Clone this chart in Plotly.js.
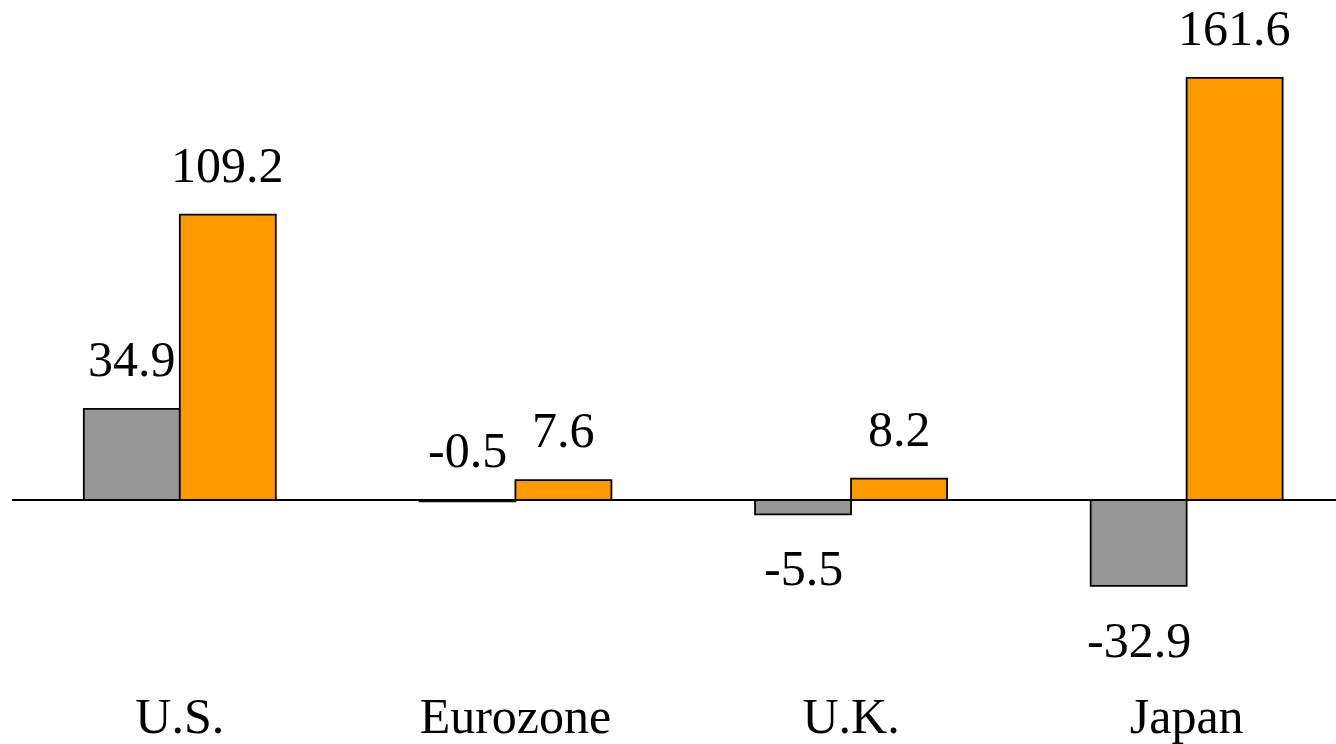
<!DOCTYPE html>
<html>
<head>
<meta charset="utf-8">
<script src="https://cdn.plot.ly/plotly-3.0.1.min.js"></script>
<style>html,body{margin:0;padding:0;background:#fff;overflow:hidden;}#chart{width:1336px;height:744px;}</style>
</head>
<body>
<div id="chart"></div>
<script>
const categories = ["U.S.", "Eurozone", "U.K.", "Japan"];
const seriesGray = [34.9, -0.5, -5.5, -32.9];
const seriesOrange = [109.2, 7.6, 8.2, 161.6];

const bargap = 0.428;
const fontFamily = '"Liberation Serif", "Times New Roman", serif';
const labelSize = 50;

const traces = [
  {type: 'bar', x: categories, y: seriesGray, name: 'Gray',
   marker: {color: '#969696', line: {color: '#000', width: 1.8}}},
  {type: 'bar', x: categories, y: seriesOrange, name: 'Orange',
   marker: {color: '#FF9900', line: {color: '#000', width: 1.8}}}
];

const half = (1 - bargap) / 4;
const annotations = [];
[seriesGray, seriesOrange].forEach((vals, s) => {
  vals.forEach((v, i) => {
    const above = v > -1;
    annotations.push({
      x: i + (s === 0 ? -half : half), xref: 'x',
      y: above ? Math.max(v, 0) : v, yref: 'y',
      text: v.toFixed(1), showarrow: false,
      yanchor: above ? 'bottom' : 'top',
      yshift: above ? 20 : -24,
      font: {family: fontFamily, size: labelSize, color: '#000'}
    });
  });
});

const layout = {
  width: 1336, height: 744,
  margin: {l: 12, r: 0, t: 0, b: 62},
  paper_bgcolor: '#fff', plot_bgcolor: '#fff',
  showlegend: false,
  barmode: 'group', bargap: bargap, bargroupgap: 0,
  font: {family: fontFamily, color: '#000'},
  xaxis: {type: 'category', range: [-0.5, 3.445], showgrid: false, showline: false,
          ticks: '', tickfont: {family: fontFamily, size: labelSize, color: '#000'},
          ticklabelstandoff: 0, automargin: false, fixedrange: true},
  yaxis: {range: [-69.68, 191.4], showgrid: false, showline: false, showticklabels: false,
          ticks: '', zeroline: false, automargin: false, fixedrange: true},
  shapes: [{type: 'line', xref: 'paper', yref: 'y', x0: 0, x1: 1, y0: 0, y1: 0,
            line: {color: '#000', width: 2}, layer: 'below'}],
  annotations: annotations
};

Plotly.newPlot('chart', traces, layout, {staticPlot: true, displayModeBar: false});
</script>
</body>
</html>
